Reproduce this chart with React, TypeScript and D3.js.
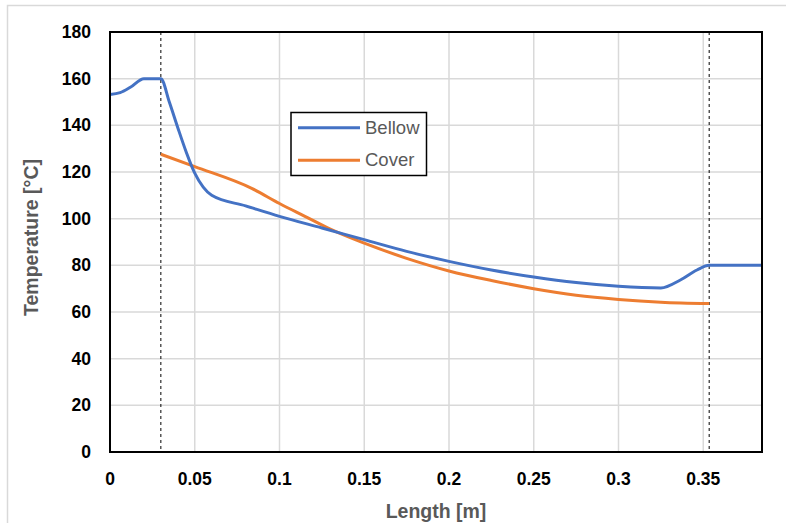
import React from "react";
import * as d3 from "d3";

const bellowX = [0, 0.006, 0.012, 0.02, 0.03, 0.035, 0.04, 0.045, 0.05, 0.055, 0.06, 0.08, 0.1, 0.125, 0.15, 0.175, 0.2, 0.225, 0.25, 0.275, 0.3, 0.325, 0.3365, 0.3463, 0.3535, 0.385];
const bellowY = [153.2, 154, 156.3, 160, 160, 150, 139, 128.5, 119.5, 113.5, 110, 105.5, 101, 96, 91, 86, 81.7, 78, 75, 72.6, 71, 70.3, 73.7, 78, 80, 80];
const coverX = [0.03, 0.05, 0.0836, 0.1, 0.115, 0.13, 0.15, 0.175, 0.2, 0.225, 0.25, 0.275, 0.3, 0.325, 0.3535];
const coverY = [127.6, 122.3, 113, 106.5, 101, 95.5, 89.5, 83, 77.6, 73.5, 70, 67.2, 65.4, 64.2, 63.6];
const xTicks = [0, 0.05, 0.1, 0.15, 0.2, 0.25, 0.3, 0.35];
const yTicks = [0, 20, 40, 60, 80, 100, 120, 140, 160, 180];
const dashedX = [0.03, 0.3535];
const seriesNames = ["Bellow", "Cover"];
const colors = ["#4472C4", "#ED7D31"];

export default function App() {
  const left = 110, right = 762, top = 32, bottom = 452;
  const x = d3.scaleLinear().domain([0, 0.385]).range([left, left + (0.385 / 0.05) * 84.75]);
  const y = d3.scaleLinear().domain([0, 180]).range([bottom, top]);
  const line = d3.line<[number, number]>().x(d => x(d[0])).y(d => y(d[1])).curve(d3.curveMonotoneX);
  const bellow = bellowX.map((v, i) => [v, bellowY[i]] as [number, number]);
  const cover = coverX.map((v, i) => [v, coverY[i]] as [number, number]);
  const font = "'Liberation Sans', Arial, sans-serif";
  return (
    <svg width={786} height={523} style={{ position: "absolute", left: 0, top: 0 }} fontFamily={font}>
      <rect x={0} y={0} width={786} height={523} fill="#fff" />
      <rect x={7.5} y={5.5} width={800} height={600} fill="none" stroke="#d9d9d9" strokeWidth={1.5} />
      {yTicks.map(t => (
        <line key={"gy" + t} x1={left} x2={right} y1={y(t)} y2={y(t)} stroke="#d9d9d9" strokeWidth={1.5} />
      ))}
      {xTicks.map(t => (
        <line key={"gx" + t} x1={x(t)} x2={x(t)} y1={top} y2={bottom} stroke="#d9d9d9" strokeWidth={1.5} />
      ))}
      {dashedX.map(t => (
        <line key={"d" + t} x1={x(t)} x2={x(t)} y1={top} y2={bottom} stroke="#000" strokeWidth={1} strokeDasharray="3,3" />
      ))}
      <path d={line(cover) || ""} fill="none" stroke={colors[1]} strokeWidth={3} />
      <path d={line(bellow) || ""} fill="none" stroke={colors[0]} strokeWidth={3} />
      <rect x={left} y={top} width={right - left} height={bottom - top} fill="none" stroke="#000" strokeWidth={2} />
      {yTicks.map(t => (
        <text key={"ty" + t} x={91} y={y(t) + 6} textAnchor="end" fontSize={17.5} fontWeight="bold" fill="#000">{t}</text>
      ))}
      {xTicks.map(t => (
        <text key={"tx" + t} x={x(t)} y={485} textAnchor="middle" fontSize={17.5} fontWeight="bold" fill="#000">{t}</text>
      ))}
      <text x={436} y={518} textAnchor="middle" fontSize={19.5} fontWeight="bold" fill="#595959">Length [m]</text>
      <text transform={`translate(38,237.5) rotate(-90)`} textAnchor="middle" fontSize={19.5} fontWeight="bold" fill="#595959">Temperature [°C]</text>
      <rect x={291} y={112.5} width={135.5} height={63} fill="#fff" stroke="#000" strokeWidth={1.5} />
      {seriesNames.map((n, i) => (
        <g key={n}>
          <line x1={298} x2={360} y1={127.7 + i * 32.6} y2={127.7 + i * 32.6} stroke={colors[i]} strokeWidth={3} />
          <text x={365} y={127.7 + i * 32.6 + 6} fontSize={18.5} fill="#595959">{n}</text>
        </g>
      ))}
    </svg>
  );
}
